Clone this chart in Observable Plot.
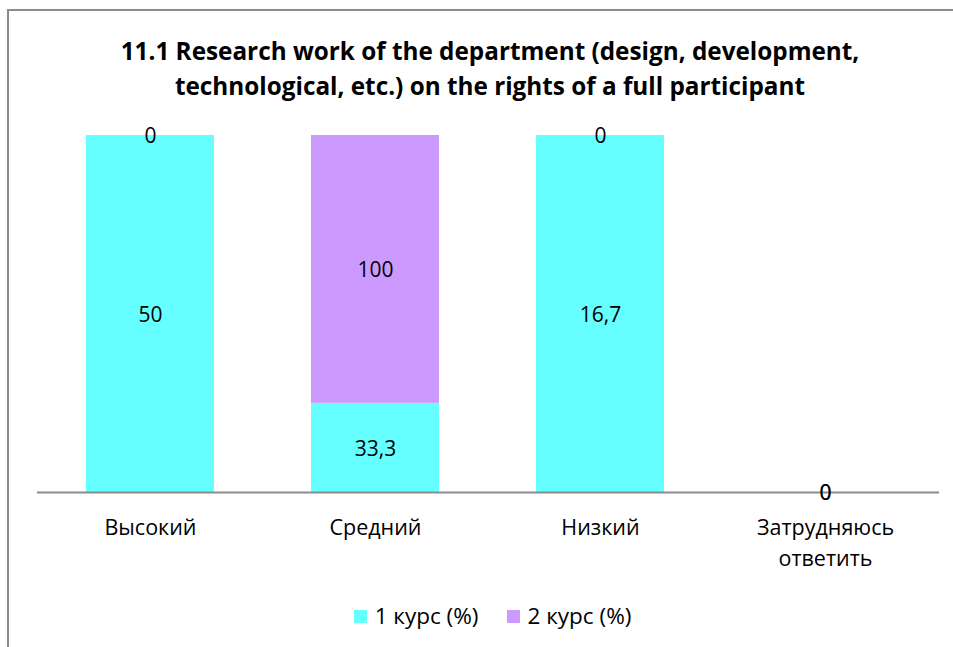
<!DOCTYPE html>
<html>
<head>
<meta charset="utf-8">
<script src="https://cdn.jsdelivr.net/npm/d3@7"></script>
<script src="https://cdn.jsdelivr.net/npm/@observablehq/plot@0.6"></script>
<style>
  html, body { margin: 0; padding: 0; background: #fff; overflow: hidden; width: 953px; height: 647px; }
  body { position: relative; font-family: "Open Sans", sans-serif; }
  #frame { position: absolute; left: 7px; top: 9px; width: 1000px; height: 700px; border: 2px solid #8c8c8c; box-sizing: border-box; }
  #title { position: absolute; left: 0; top: 33px; width: 980px; text-align: center; font-weight: bold; font-size: 24.3px; line-height: 35px; color: #000; }
  #chart { position: absolute; left: 0; top: 110px; }
  #legend { position: absolute; left: 0; top: 600px; width: 985px; display: flex; justify-content: center; gap: 28px; font-size: 22.5px; line-height: 32px; color: #000; }
  .item { display: flex; align-items: center; }
  .sw { width: 13px; height: 13px; margin-right: 8px; }
</style>
</head>
<body>
<div id="frame"></div>
<div id="title">11.1 Research work of the department (design, development,<br>technological, etc.) on the rights of a full participant</div>
<div id="chart"></div>
<div id="legend"></div>
<script>
const categories = ["Высокий", "Средний", "Низкий", "Затрудняюсь ответить"];
const series = ["1 курс (%)", "2 курс (%)"];
const course1 = [50, 33.3, 16.7, 0];
const course2 = [0, 100, 0, 0];
const colors = ["#66ffff", "#cc99ff"];

const rows = [];
categories.forEach((c, i) => {
  const vals = [course1[i], course2[i]];
  const total = vals[0] + vals[1];
  series.forEach((s, j) => {
    rows.push({category: c, series: s, value: vals[j], share: total ? vals[j] / total : 0});
  });
});
const fmt = v => String(v).replace(".", ",");

const plot = Plot.plot({
  width: 953,
  height: 462,
  marginTop: 25,
  marginBottom: 80,
  marginLeft: 37,
  marginRight: 14,
  style: {fontFamily: "Open Sans, sans-serif", fontSize: "21px", color: "#000", background: "transparent"},
  x: {domain: categories, paddingInner: 0.43, paddingOuter: 0.215, label: null},
  y: {domain: [0, 1], axis: null},
  color: {domain: series, range: colors},
  marks: [
    Plot.barY(rows, Plot.stackY({x: "category", y: "share", fill: "series", order: series})),
    Plot.ruleY([0], {stroke: "#8c8c8c", strokeWidth: 2}),
    Plot.axisX({tickSize: 0, tickPadding: 21, fontSize: 21.5, lineHeight: 1.42, tickFormat: d => d.replace(" ", "\n")}),
    Plot.text(rows, Plot.stackY({x: "category", y: "share", z: "series", order: series, text: d => fmt(d.value), fill: "#000", fontSize: 21, dy: 1}))
  ]
});
document.getElementById("chart").appendChild(plot);

const legend = document.getElementById("legend");
series.forEach((s, j) => {
  const it = document.createElement("div");
  it.className = "item";
  const sw = document.createElement("div");
  sw.className = "sw";
  sw.style.background = colors[j];
  const t = document.createElement("span");
  t.textContent = s;
  it.appendChild(sw); it.appendChild(t);
  legend.appendChild(it);
});
</script>
</body>
</html>
